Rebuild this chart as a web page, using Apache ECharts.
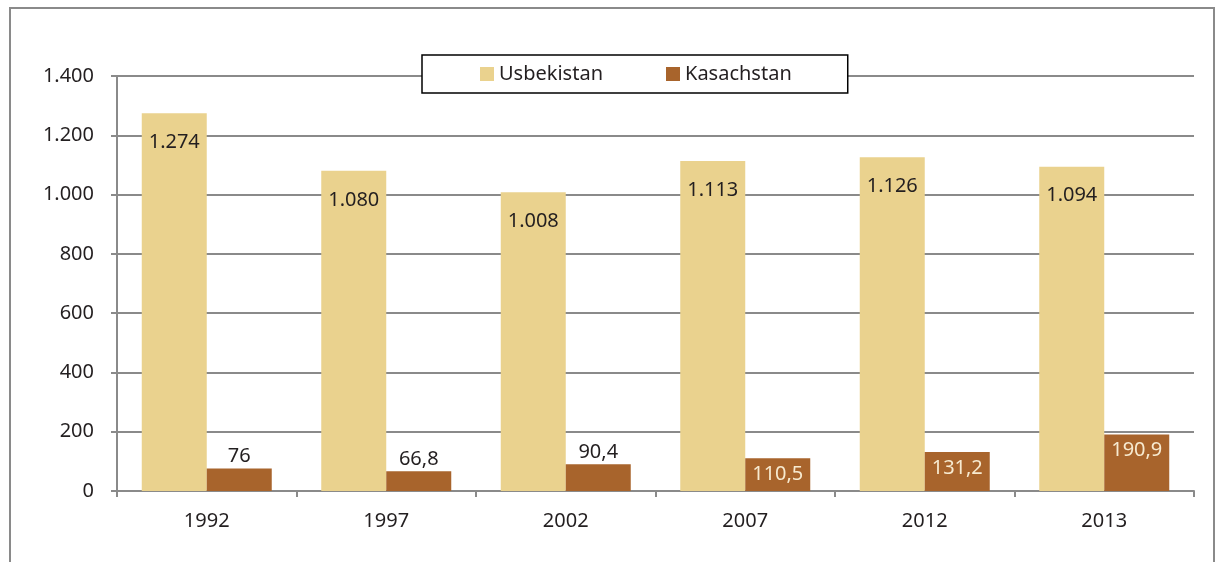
<!DOCTYPE html>
<html>
<head>
<meta charset="utf-8">
<script src="https://cdn.jsdelivr.net/npm/echarts@6/dist/echarts.min.js"></script>
<style>
  html, body { margin: 0; padding: 0; background: #fff; }
  #chart { width: 1216px; height: 562px; }
</style>
</head>
<body>
<div id="chart"></div>
<script>
(function() {
  'use strict';

  var years = ['1992', '1997', '2002', '2007', '2012', '2013'];
  var usbekistan = [1274, 1080, 1008, 1113, 1126, 1094];
  var kasachstan = [76, 66.8, 90.4, 110.5, 131.2, 190.9];
  var yTicks = [0, 200, 400, 600, 800, 1000, 1200, 1400];

  var font = 'Noto Sans';
  var dark = '#231f20';
  var fs = 20;

  // german number style: dot for thousands, comma for decimals
  function fmt(v) {
    var parts = String(v).split('.');
    var ints = parts[0].replace(/\B(?=(\d{3})+(?!\d))/g, '.');
    return parts.length > 1 ? ints + ',' + parts[1] : ints;
  }

  // small brown bars get the label above, taller ones inside
  var kasData = kasachstan.map(function(v) {
    var inside = v > 100;
    return {
      value: v,
      label: {
        position: inside ? 'insideTop' : 'top',
        distance: inside ? 6 : 2,
        color: inside ? '#f7ead0' : dark
      }
    };
  });

  var chart = echarts.init(document.getElementById('chart'));

  chart.setOption({
    animation: false,
    textStyle: { fontFamily: font },
    graphic: [{
      type: 'rect',
      shape: { x: 10, y: 8, width: 1204, height: 600 },
      style: { fill: 'none', stroke: '#8a8a8a', lineWidth: 2 },
      z: -1
    }],
    legend: {
      left: 422,
      top: 55,
      padding: [9, 56, 9, 58],
      itemGap: 63,
      itemWidth: 14,
      itemHeight: 14,
      backgroundColor: '#fff',
      borderColor: '#000',
      borderWidth: 1.5,
      textStyle: { fontSize: fs, color: dark, fontFamily: font },
      data: [
        { name: 'Usbekistan', icon: 'rect' },
        { name: 'Kasachstan', icon: 'rect' }
      ],
      z: 10
    },
    grid: { left: 117, right: 22, top: 76, bottom: 71, containLabel: false },
    xAxis: {
      type: 'category',
      data: years,
      axisLine: { lineStyle: { color: '#8a8a8a', width: 2 } },
      axisTick: { show: true, length: 6, lineStyle: { color: '#8a8a8a', width: 2 } },
      axisLabel: { fontSize: fs, color: dark, margin: 20 }
    },
    yAxis: {
      type: 'value',
      min: yTicks[0],
      max: yTicks[yTicks.length - 1],
      interval: 200,
      axisLine: { show: true, lineStyle: { color: '#8a8a8a', width: 2 } },
      axisTick: { show: true, length: 6, lineStyle: { color: '#8a8a8a', width: 2 } },
      splitLine: { lineStyle: { color: '#8a8a8a', width: 2 } },
      axisLabel: {
        fontSize: fs, color: dark, margin: 23,
        formatter: function(v) { return fmt(v); }
      }
    },
    series: [{
      name: 'Usbekistan',
      type: 'bar',
      data: usbekistan,
      barWidth: 65,
      barGap: '0%',
      itemStyle: { color: '#ead28e' },
      label: {
        show: true,
        position: 'insideTop',
        distance: 19,
        fontSize: fs,
        color: dark,
        formatter: function(p) { return fmt(p.value); }
      }
    }, {
      name: 'Kasachstan',
      type: 'bar',
      data: kasData,
      barWidth: 65,
      itemStyle: { color: '#a8642c' },
      label: {
        show: true,
        fontSize: fs,
        formatter: function(p) { return fmt(p.value); }
      }
    }]
  });
})();
</script>
</body>
</html>
